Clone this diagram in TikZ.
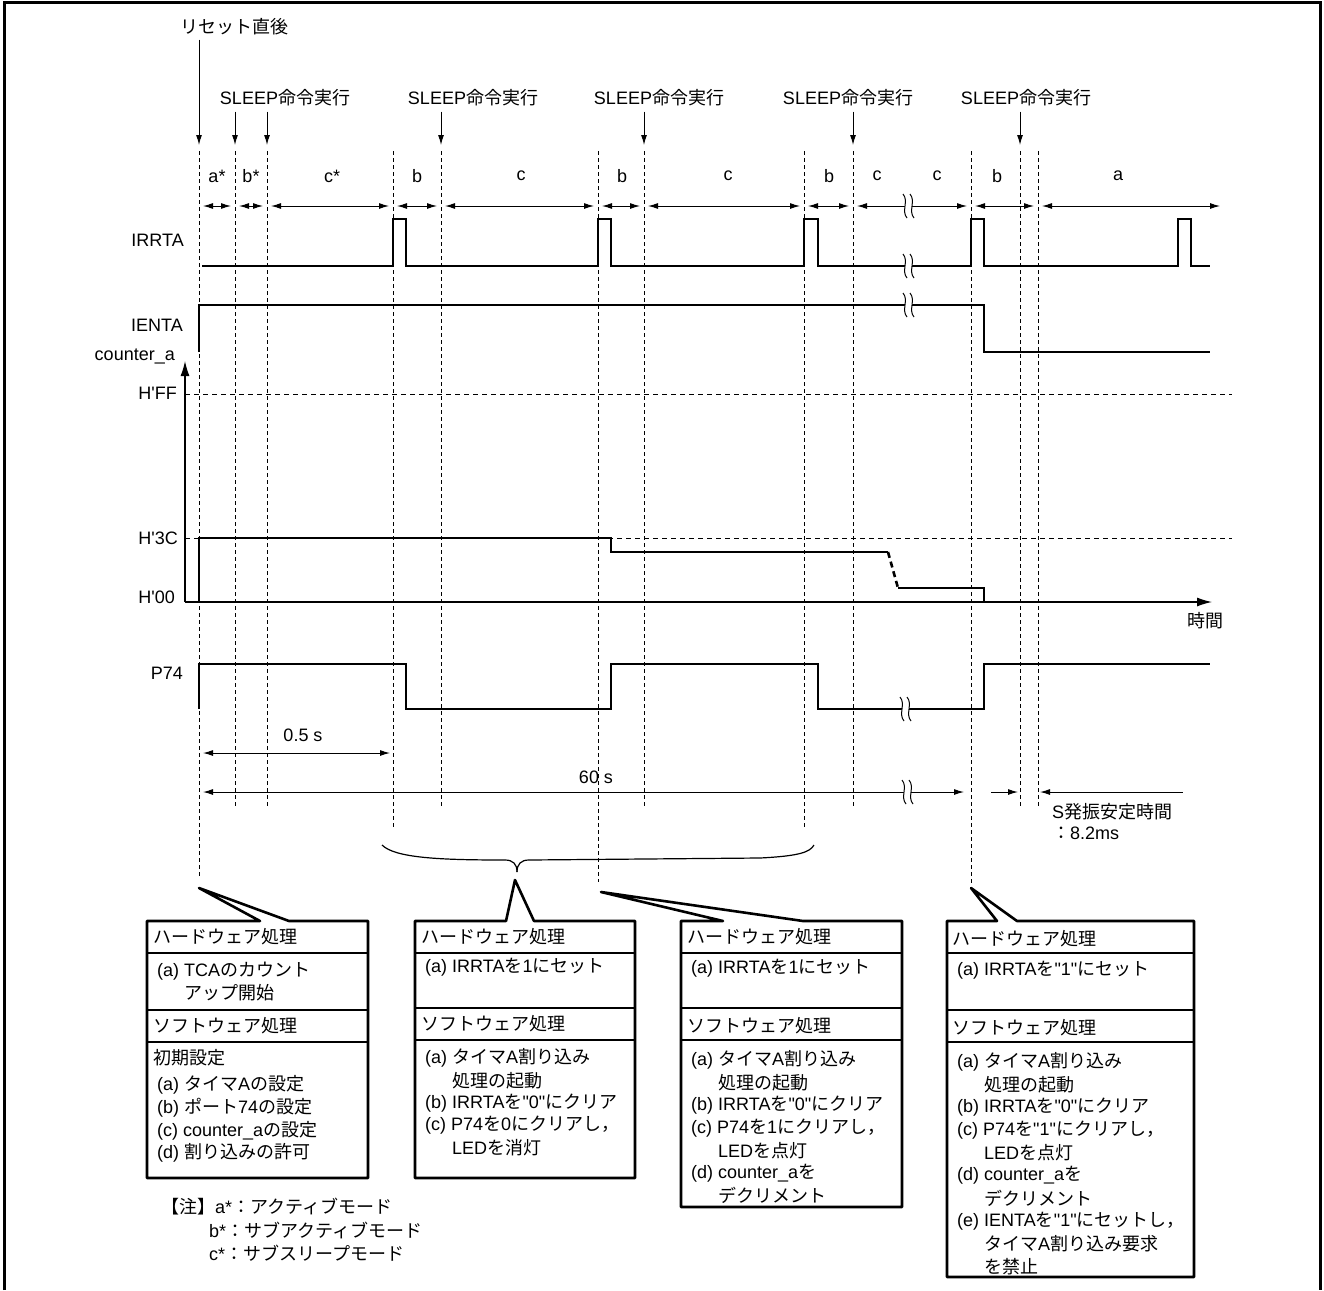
\documentclass[tikz,border=0pt]{standalone}
\usepackage{fontspec}
\setmainfont{Liberation Sans}[Ligatures=TeXOff]
\newfontfamily\jpfont{Noto Sans CJK JP}
\usetikzlibrary{arrows.meta}

% Japanese characters switch to the CJK font automatically
\XeTeXinterchartokenstate=1
\newXeTeXintercharclass\jpclass
\newcount\jpc
\newcommand\jprange[2]{\jpc=#1\relax
  \loop\ifnum\jpc<#2\relax
    \XeTeXcharclass\jpc=\jpclass
    \advance\jpc by 1\relax
  \repeat}
\jprange{"3000}{"3100}
\jprange{"4E00}{"A000}
\jprange{"FF00}{"FFF0}
\XeTeXinterchartoks 0 \jpclass = {\begingroup\jpfont}
\XeTeXinterchartoks 4095 \jpclass = {\begingroup\jpfont}
\XeTeXinterchartoks \jpclass 0 = {\endgroup}
\XeTeXinterchartoks \jpclass 4095 = {\endgroup}

\tikzset{
  sig/.style={line width=2.6pt},
  vgrid/.style={line width=1pt, dash pattern=on 4pt off 3pt},
  hgrid/.style={line width=1pt, dash pattern=on 5pt off 4pt},
  dimarr/.style={line width=1pt, {Latex[length=10pt,width=6pt]}-{Latex[length=10pt,width=6pt]}},
  downarr/.style={line width=1pt, -{Latex[length=10pt,width=6pt]}},
  cntaxis/.style={line width=1.2pt, -{Latex[length=15pt,width=9pt]}},
  lbl/.style={inner sep=0pt, font=\fontsize{18}{22.5}\selectfont},
  boxln/.style={line width=2.6pt, line join=round},
}

% break mark on a line: x, y
\newcommand\tbreak[2]{%
  \fill[white] (#1-5,#2-12) .. controls (#1+1,#2-5) and (#1-7,#2+5) .. (#1-1,#2+12)
    -- (#1+6,#2+12) .. controls (#1,#2+5) and (#1+8,#2-5) .. (#1+2,#2-12) -- cycle;
  \draw[line width=1pt] (#1-5,#2-12) .. controls (#1+1,#2-5) and (#1-7,#2+5) .. (#1-1,#2+12);
  \draw[line width=1pt] (#1+2,#2-12) .. controls (#1+8,#2-5) and (#1,#2+5) .. (#1+6,#2+12);
}

\begin{document}
\begin{tikzpicture}[x=1pt,y=-1pt]
  \useasboundingbox (0,0) rectangle (1324,1290);
  \draw[line width=3pt] (4.5,1290) -- (4.5,2.5) -- (1320,2.5) -- (1320,1290);

  % events on top
  \node[lbl] (rst) at (234,27) {リセット直後};
  \foreach \n/\x in {s1/285, s2/473, s3/659, s4/848, s5/1026}
    \node[lbl] (\n) at (\x,98) {SLEEP命令実行};
  \foreach \n/\x in {t199/199, t235/235, t267/267, t441/441, t644/644, t853/853, t1020/1020}
    \coordinate (\n) at (\x,145);
  \draw[downarr, shorten <=4pt] (rst.south -| t199) -- (t199);
  \draw[downarr, shorten <=5pt] (s1.south -| t235) -- (t235);
  \draw[downarr, shorten <=5pt] (s1.south -| t267) -- (t267);
  \draw[downarr, shorten <=5pt] (s2.south -| t441) -- (t441);
  \draw[downarr, shorten <=5pt] (s3.south -| t644) -- (t644);
  \draw[downarr, shorten <=5pt] (s4.south -| t853) -- (t853);
  \draw[downarr, shorten <=5pt] (s5.south -| t1020) -- (t1020);

  % time marks
  \foreach \x/\e in {199/878, 235/807, 267/807, 393/828, 441/807, 598/882,
                     644/807, 804/828, 853/807, 971/883, 1020/807, 1038/807}
    \draw[vgrid] (\x,151) -- (\x,\e);

  % phases
  \foreach \t/\x [count=\i] in {a*/217, b*/251, c*/332, b/417, c/521, b/622, c/728,
                                b/829, c/877, c/937, b/997, a/1118}
    \node[lbl] (ph\i) at (\x,176) {\t};
  \foreach \a/\b in {203/231, 239/263, 271/389, 397/437, 445/594, 602/640, 648/800,
                     808/849, 857/967, 975/1034, 1042/1220}
    \draw[dimarr] (\a,206) -- (\b,206);
  \tbreak{908}{206}

  % signal names
  \node[lbl, anchor=east] (irrta) at (184,240) {IRRTA};
  \node[lbl, anchor=east] (ienta) at (183,325) {IENTA};
  \node[lbl, anchor=east] (cnt) at (175,356) {counter\_a};
  \node[lbl, anchor=east] (hff) at (177,393) {H'FF};
  \node[lbl, anchor=east] (h3c) at (178,538) {H'3C};
  \node[lbl, anchor=east] (h00) at (175,597) {H'00};
  \node[lbl, anchor=east] (p74) at (183,673) {P74};

  % IRRTA
  \draw[sig] (202,266) -- (393,266) -- (393,219) -- (406,219) -- (406,266)
    -- (598,266) -- (598,219) -- (611,219) -- (611,266)
    -- (804,266) -- (804,219) -- (818,219) -- (818,266)
    -- (971,266) -- (971,219) -- (984,219) -- (984,266)
    -- (1178,266) -- (1178,219) -- (1191,219) -- (1191,266) -- (1210,266);
  \tbreak{908}{266}

  % IENTA
  \draw[sig] (199,352) -- (199,305) -- (984,305) -- (984,352) -- (1210,352);
  \tbreak{908}{305}

  % counter_a
  \draw[hgrid] (185,394) -- (1232,394);
  \draw[hgrid] (185,538) -- (1232,538);
  \coordinate (org) at (185,602);
  \draw[cntaxis] (org) -- (185,361);
  \draw[cntaxis] (org) -- (1212,602);
  \node[lbl] (time) at (1205,621) {時間};
  \draw[sig] (199,602) -- (199,538) -- (611,538) -- (611,552) -- (888,552);
  \draw[sig, dash pattern=on 6pt off 4pt] (888,552) -- (898,588);
  \draw[sig] (898,588) -- (984,588) -- (984,602) -- (1198,602);

  % P74
  \draw[sig] (199,709) -- (199,664) -- (406,664) -- (406,709) -- (611,709)
    -- (611,664) -- (818,664) -- (818,709) -- (984,709) -- (984,664) -- (1210,664);
  \tbreak{905}{709}

  % periods
  \node[lbl] (half) at (303,735) {0.5 s};
  \draw[dimarr] (203,753) -- (390,753);
  \node[lbl] (full) at (596,777) {60 s};
  \draw[dimarr] (203,792) -- (964,792);
  \tbreak{907}{792}
  \draw[downarr] (991,792) -- (1018,792);
  \draw[line width=1pt, {Latex[length=10pt,width=6pt]}-] (1040,792) -- (1183,792);
  \node[lbl, anchor=west] (osc1) at (1052,812) {S発振安定時間};
  \node[lbl, anchor=west] (osc2) at (1052,833) {：8.2ms};

  % brace over the b periods
  \draw[line width=1.2pt] (382,845) .. controls (395,858) and (440,860) .. (505,860)
    .. controls (513,860) and (517,864) .. (517,872);
  \draw[line width=1.2pt] (517,872) .. controls (517,864) and (521,860) .. (529,860)
    -- (760,858) .. controls (800,856) and (810,852) .. (814,845);

  % box 1
  \draw[boxln] (260,921) -- (199,888) -- (289,921) -- (368,921) -- (368,1178)
    -- (147,1178) -- (147,921) -- cycle;
  \foreach \y in {953,1010,1042} \draw[boxln] (147,\y) -- (368,\y);
  \node[lbl, anchor=west] (b1hw) at (153,937) {ハードウェア処理};
  \node[lbl, anchor=west] (b1a) at (157,971) {(a) TCAのカウント};
  \node[lbl, anchor=west] (b1b) at (157,993) {\hspace*{27pt}アップ開始};
  \node[lbl, anchor=west] (b1sw) at (153,1026) {ソフトウェア処理};
  \node[lbl, anchor=west] (b1i) at (153,1058) {初期設定};
  \foreach \t [count=\i from 0] in {{(a) タイマAの設定}, {(b) ポート74の設定},
                                    {(c) counter\_aの設定}, {(d) 割り込みの許可}}
    \node[lbl, anchor=west] (b1s\i) at (157,{1085+22.7*\i}) {\t};

  % notes
  \node[lbl, anchor=west] (n1) at (161,1207) {【注】a*：アクティブモード};
  \node[lbl, anchor=west] (n2) at (209,1230) {b*：サブアクティブモード};
  \node[lbl, anchor=west] (n3) at (209,1253) {c*：サブスリープモード};

  % box 2
  \draw[boxln] (506,921) -- (515,880) -- (534,921) -- (635,921) -- (635,1178)
    -- (415,1178) -- (415,921) -- cycle;
  \foreach \y in {953,1008,1040} \draw[boxln] (415,\y) -- (635,\y);
  \node[lbl, anchor=west] (b2hw) at (421,937) {ハードウェア処理};
  \node[lbl, anchor=west] (b2a) at (425,967) {(a) IRRTAを1にセット};
  \node[lbl, anchor=west] (b2sw) at (421,1024) {ソフトウェア処理};
  \foreach \t [count=\i from 0] in {{(a) タイマA割り込み}, {\hspace*{27pt}処理の起動},
                                    {(b) IRRTAを"0"にクリア}, {(c) P74を0にクリアし，},
                                    {\hspace*{27pt}LEDを消灯}}
    \node[lbl, anchor=west] (b2s\i) at (425,{1058+22.5*\i}) {\t};

  % box 3
  \draw[boxln] (723,921) -- (601,892) -- (803,921) -- (902,921) -- (902,1207)
    -- (681,1207) -- (681,921) -- cycle;
  \foreach \y in {953,1008,1040} \draw[boxln] (681,\y) -- (902,\y);
  \node[lbl, anchor=west] (b3hw) at (687,937) {ハードウェア処理};
  \node[lbl, anchor=west] (b3a) at (691,968) {(a) IRRTAを1にセット};
  \node[lbl, anchor=west] (b3sw) at (687,1026) {ソフトウェア処理};
  \foreach \t [count=\i from 0] in {{(a) タイマA割り込み}, {\hspace*{27pt}処理の起動},
                                    {(b) IRRTAを"0"にクリア}, {(c) P74を1にクリアし，},
                                    {\hspace*{27pt}LEDを点灯}, {(d) counter\_aを},
                                    {\hspace*{27pt}デクリメント}}
    \node[lbl, anchor=west] (b3s\i) at (691,{1060+22.6*\i}) {\t};

  % box 4
  \draw[boxln] (997,921) -- (971,888) -- (1017,921) -- (1194,921) -- (1194,1277)
    -- (947,1277) -- (947,921) -- cycle;
  \foreach \y in {953,1010,1042} \draw[boxln] (947,\y) -- (1194,\y);
  \node[lbl, anchor=west] (b4hw) at (952,939) {ハードウェア処理};
  \node[lbl, anchor=west] (b4a) at (957,970) {(a) IRRTAを"1"にセット};
  \node[lbl, anchor=west] (b4sw) at (952,1028) {ソフトウェア処理};
  \foreach \t [count=\i from 0] in {{(a) タイマA割り込み}, {\hspace*{27pt}処理の起動},
                                    {(b) IRRTAを"0"にクリア}, {(c) P74を"1"にクリアし，},
                                    {\hspace*{27pt}LEDを点灯}, {(d) counter\_aを},
                                    {\hspace*{27pt}デクリメント}, {(e) IENTAを"1"にセットし，},
                                    {\hspace*{27pt}タイマA割り込み要求}, {\hspace*{27pt}を禁止}}
    \node[lbl, anchor=west] (b4s\i) at (957,{1062+22.7*\i}) {\t};
\end{tikzpicture}
\end{document}
